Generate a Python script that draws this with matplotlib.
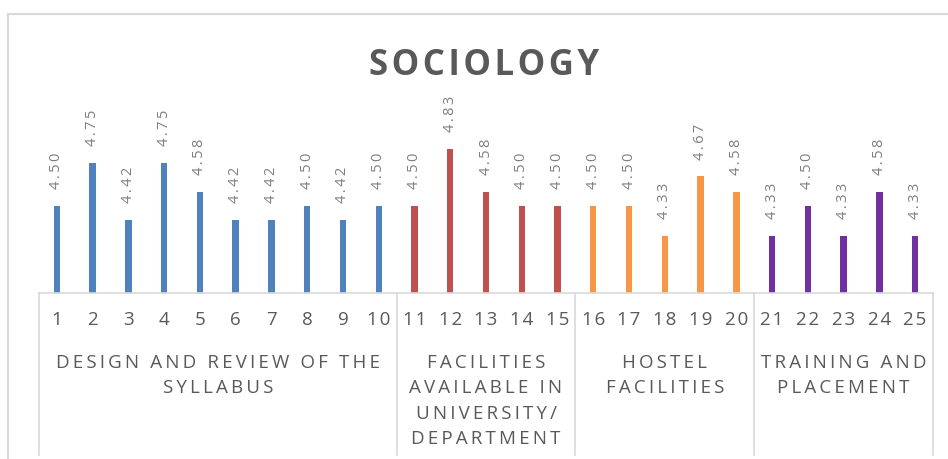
import matplotlib
matplotlib.use('Agg')
import matplotlib.pyplot as plt
from matplotlib.lines import Line2D

plt.rcParams['font.family'] = ['Open Sans', 'DejaVu Sans']

# data
questions = [str(i) for i in range(1, 26)]
scores = [4.50, 4.75, 4.42, 4.75, 4.58, 4.42, 4.42, 4.50, 4.42, 4.50,
          4.50, 4.83, 4.58, 4.50, 4.50,
          4.50, 4.50, 4.33, 4.67, 4.58,
          4.33, 4.50, 4.33, 4.58, 4.33]
group_names = ['DESIGN AND REVIEW OF THE\nSYLLABUS',
               'FACILITIES\nAVAILABLE IN\nUNIVERSITY/\nDEPARTMENT',
               'HOSTEL\nFACILITIES',
               'TRAINING AND\nPLACEMENT']
group_sizes = [10, 5, 5, 5]
group_colors = ['#4F81BD', '#C0504D', '#F79646', '#7030A0']

GRID = '#D9D9D9'
TXT = '#595959'
THIN = '\u2009'
HAIR = '\u200a'


def spaced(s, sep=THIN):
    # fake excel letter spacing
    return '\n'.join(sep.join(line) for line in s.split('\n'))


W, H = 948, 459
fig = plt.figure(figsize=(W / 100, H / 100), dpi=100)
ax = fig.add_axes([39 / W, (H - 293) / H, (933 - 39) / W, 174 / H])

colors = []
for c, n in zip(group_colors, group_sizes):
    colors += [c] * n

x = list(range(len(scores)))
ax.bar(x, scores, width=0.18, color=colors)
ax.set_ylim(4.0, 5.0)
ax.set_xlim(-0.5, len(scores) - 0.5)

for xi, v in zip(x, scores):
    ax.annotate(spaced(f'{v:.2f}'), (xi, v), xytext=(0, 12),
                textcoords='offset points', rotation=90, ha='center', va='bottom',
                fontsize=10.5, color='#7F7F7F', annotation_clip=False)

for s in ['top', 'right', 'left']:
    ax.spines[s].set_visible(False)
ax.spines['bottom'].set_color(GRID)
ax.spines['bottom'].set_linewidth(1.2)
ax.set_yticks([])
ax.set_xticks(x)
ax.set_xticklabels([spaced(q, HAIR) for q in questions], fontsize=13.5, color=TXT)
ax.tick_params(axis='x', length=0, pad=13)

# group separators and group labels
xt = ax.get_xaxis_transform()
bounds = [-0.5]
for n in group_sizes:
    bounds.append(bounds[-1] + n)
for b in bounds:
    ax.plot([b, b], [0, -(455 - 293) / 174], color=GRID, lw=1.2,
            transform=xt, clip_on=False)
for i, name in enumerate(group_names):
    mid = (bounds[i] + bounds[i + 1]) / 2
    ax.text(mid, -(354 - 293) / 174, spaced(name), transform=xt,
            ha='center', va='top', multialignment='center', fontsize=13.5,
            color=TXT, linespacing=1.52)

# title
fig.text(484 / W, 1 - 75 / H, spaced('SOCIOLOGY', HAIR), ha='center', va='baseline',
         fontsize=25, fontweight='bold', color=TXT)

# outer chart border (cropped)
fig.add_artist(Line2D([8 / W, 1], [1 - 14 / H, 1 - 14 / H], color=GRID, lw=1.5))
fig.add_artist(Line2D([8 / W, 8 / W], [0, 1 - 14 / H], color=GRID, lw=1.5))

fig.savefig('out.png', dpi=100)
